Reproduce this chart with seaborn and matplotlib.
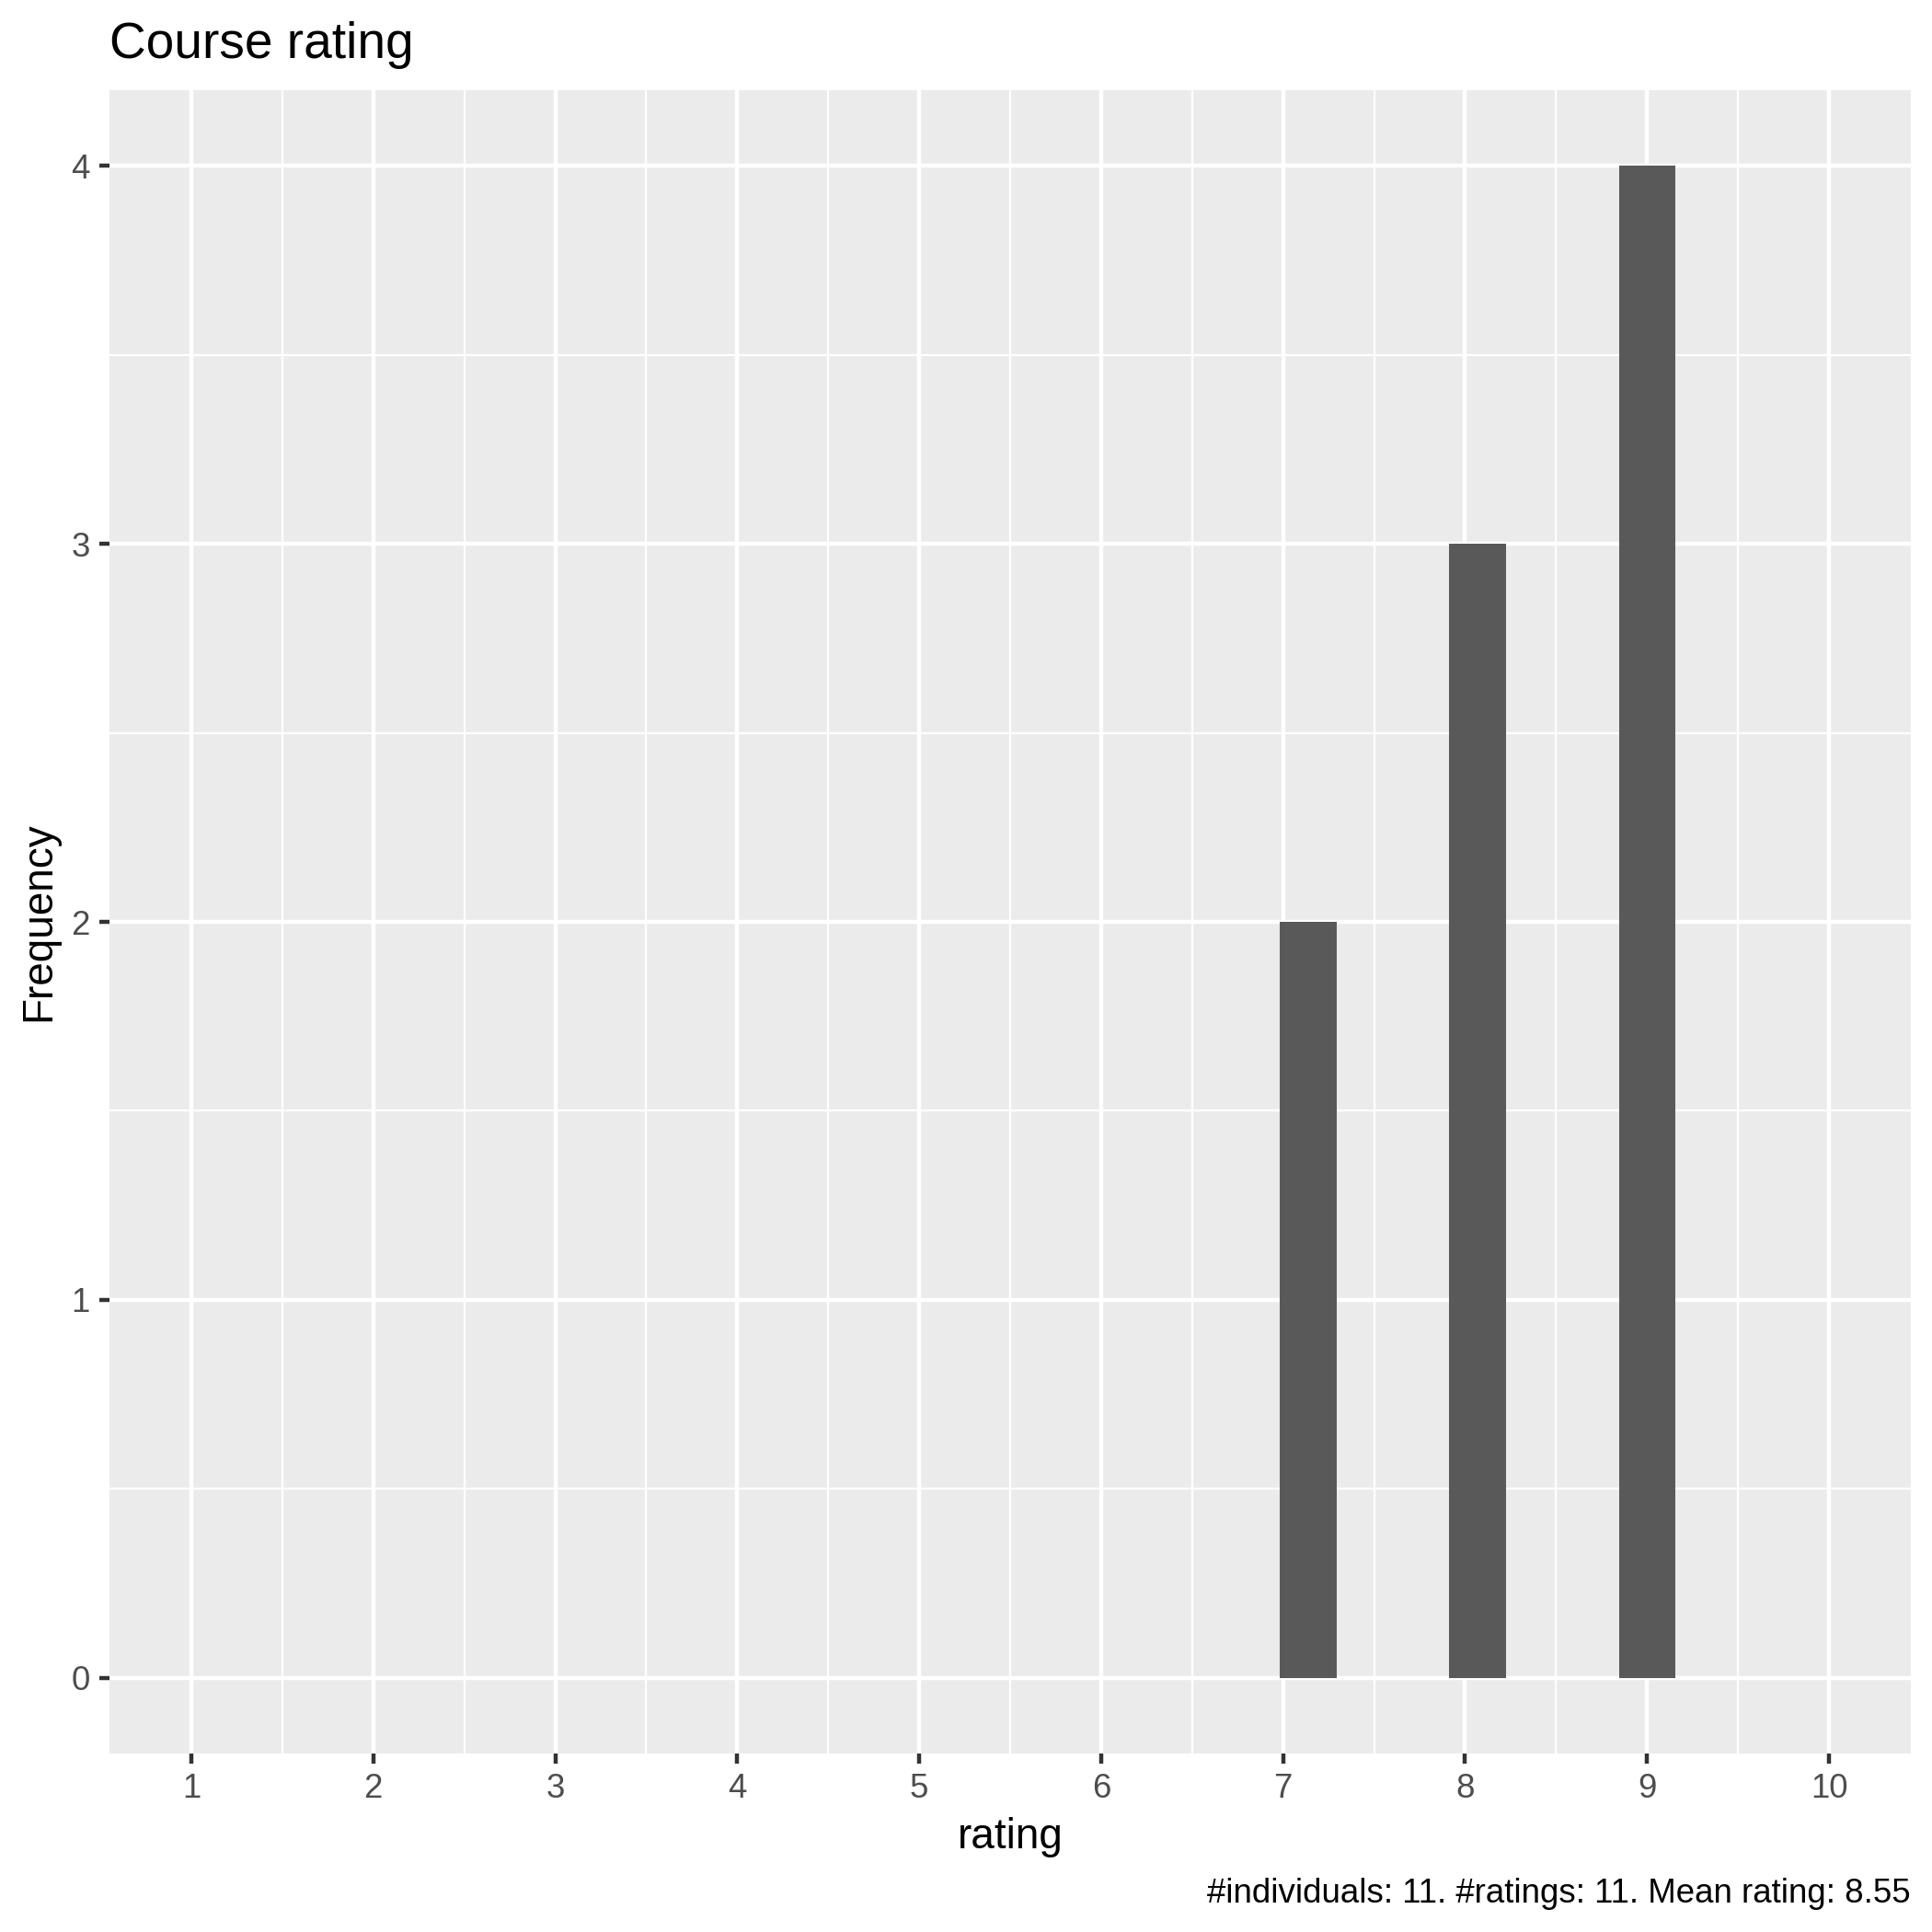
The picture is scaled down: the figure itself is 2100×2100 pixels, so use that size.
import numpy as np
import matplotlib
matplotlib.use("Agg")
import matplotlib.pyplot as plt
import seaborn as sns

# ratings shown in the histogram (the two 10s fall outside the x limits)
ratings = [7, 7, 8, 8, 8, 9, 9, 9, 9]
bin_edges = [6.983, 7.293, 7.603, 7.914, 8.224, 8.534, 8.845, 9.155]
x_ticks = [1, 2, 3, 4, 5, 6, 7, 8, 9, 10]
y_ticks = [0, 1, 2, 3, 4]
title_text = "Course rating"
caption_text = "#individuals: 11. #ratings: 11. Mean rating: 8.55"

sns.set_theme(style="darkgrid", rc={
    "axes.facecolor": "#EBEBEB",
    "grid.color": "white",
})
plt.rcParams["font.family"] = ["Liberation Sans", "DejaVu Sans"]

fig = plt.figure(figsize=(7, 7), dpi=300)
ax = fig.add_axes([119 / 2100, 1 - 1906 / 2100, (2077 - 119) / 2100, (1906 - 98) / 2100])

sns.histplot(x=ratings, bins=bin_edges, color="#595959", alpha=1,
             linewidth=0, ax=ax)

ax.set_xlim(0.55, 10.45)
ax.set_ylim(-0.2, 4.2)
ax.set_xticks(x_ticks)
ax.set_yticks(y_ticks)
ax.set_xticks(np.arange(1.5, 10, 1), minor=True)
ax.set_yticks(np.arange(0.5, 4, 1), minor=True)

ax.grid(which="major", color="white", linewidth=1.07)
ax.grid(which="minor", color="white", linewidth=0.53)
ax.set_axisbelow(True)
for s in ax.spines.values():
    s.set_visible(False)

ax.tick_params(which="major", length=2.75, width=1.07, color="#333333",
               labelcolor="#4D4D4D", labelsize=8.8, pad=2.4,
               bottom=True, left=True)
ax.tick_params(which="minor", length=0)

ax.set_xlabel("rating", fontsize=11, color="black", labelpad=3.0)
ax.set_ylabel("Frequency", fontsize=11, color="black", labelpad=3.0)
ax.set_title(title_text, loc="left", fontsize=13.2, color="black", pad=8.4)

fig.text(2077 / 2100, 1 - 2068 / 2100, caption_text, ha="right",
         va="baseline", fontsize=8.8, color="black")

fig.savefig("out.png", dpi=300)
